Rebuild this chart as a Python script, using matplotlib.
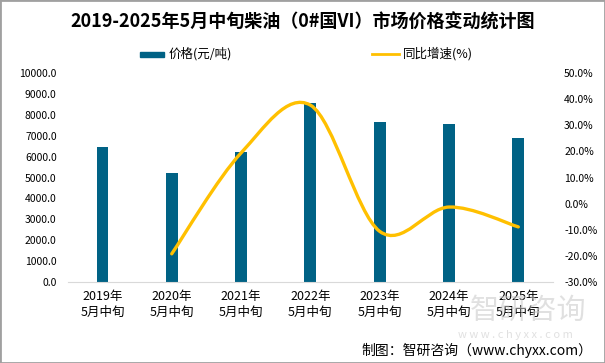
import matplotlib.pyplot as plt
import numpy as np
from matplotlib.path import Path
from matplotlib.patches import PathPatch, Rectangle
from matplotlib.lines import Line2D
from matplotlib.ticker import FormatStrFormatter

plt.rcParams['font.family'] = ['Noto Sans CJK SC', 'DejaVu Sans']

categories = ['2019年\n5月中旬', '2020年\n5月中旬', '2021年\n5月中旬', '2022年\n5月中旬',
              '2023年\n5月中旬', '2024年\n5月中旬', '2025年\n5月中旬']
price = [6450, 5215, 6225, 8570, 7660, 7560, 6890]
growth = [None, -19.2, 19.4, 37.7, -10.6, -1.3, -8.9]

bar_color = '#006285'
line_color = '#FFC000'

fig = plt.figure(figsize=(6.05, 3.63), dpi=100)
ax = fig.add_axes([0.112, 0.223, 0.802, 0.576])
ax2 = ax.twinx()

x = np.arange(len(categories))
ax.bar(x, price, width=0.17, color=bar_color, zorder=2)
ax.set_xlim(-0.5, len(categories) - 0.5)
ax.set_ylim(0, 10000)
ax.set_yticks(np.arange(0, 10001, 1000))
ax.yaxis.set_major_formatter(FormatStrFormatter('%.1f'))
ax.set_xticks(x)
ax.set_xticklabels(categories, fontsize=9, linespacing=1.3)

# smooth growth curve (bezier through the data points, like excel smoothing)
gx = [i for i, g in enumerate(growth) if g is not None]
gy = [g for g in growth if g is not None]
verts = [(gx[0], gy[0])]
codes = [Path.MOVETO]
n = len(gx)
t = 1 / 6
for i in range(n - 1):
    p0 = (gx[max(i - 1, 0)], gy[max(i - 1, 0)])
    p1 = (gx[i], gy[i])
    p2 = (gx[i + 1], gy[i + 1])
    p3 = (gx[min(i + 2, n - 1)], gy[min(i + 2, n - 1)])
    c1 = (p1[0] + (p2[0] - p0[0]) * t, p1[1] + (p2[1] - p0[1]) * t)
    c2 = (p2[0] - (p3[0] - p1[0]) * t, p2[1] - (p3[1] - p1[1]) * t)
    verts += [c1, c2, p2]
    codes += [Path.CURVE4] * 3
ax2.add_patch(PathPatch(Path(verts, codes), fill=False, edgecolor=line_color,
                        lw=2.4, capstyle='round', zorder=3))
ax2.set_ylim(-30, 50)
ax2.set_yticks(np.arange(-30, 51, 10))
ax2.yaxis.set_major_formatter(FormatStrFormatter('%.1f%%'))

for a in (ax, ax2):
    for s in a.spines.values():
        s.set_visible(False)
    a.tick_params(length=0, labelsize=7.5, colors='#000000')
ax.spines['bottom'].set_visible(True)
ax.spines['bottom'].set_color('#d9d9d9')
ax.tick_params(axis='x', pad=6, labelsize=9)
ax.tick_params(axis='y', pad=8)
ax2.tick_params(axis='y', pad=8)

fig.text(0.5, 0.94, '2019-2025年5月中旬柴油（0#国VI）市场价格变动统计图',
         ha='center', va='center', fontsize=13, fontweight='bold')

# legend
fig.patches.append(Rectangle((140 / 605, 1 - 57 / 363), 24 / 605, 5 / 363,
                             transform=fig.transFigure, color=bar_color))
fig.text(169 / 605, 1 - 54 / 363, '价格(元/吨)', fontsize=9, va='center')
fig.lines.append(Line2D([372 / 605, 399 / 605], [1 - 54 / 363] * 2,
                        transform=fig.transFigure, color=line_color, lw=2))
fig.text(403 / 605, 1 - 54 / 363, '同比增速(%)', fontsize=9, va='center')

# watermark
fig.text(528 / 605, 1 - 311 / 363, '智研咨询', fontsize=21, color='#c8c8c8',
         alpha=0.55, ha='center', va='center', zorder=0)
fig.text(515 / 605, 1 - 335 / 363, 'w w w . c h y x x . c o m', fontsize=8,
         color='#c8c8c8', alpha=0.55, ha='center', va='center', zorder=0)

fig.text(592 / 605, 1 - 350 / 363, '制图：智研咨询（www.chyxx.com）', fontsize=10,
         ha='right', va='center')

fig.patches.append(Rectangle((0, 0), 1, 1, transform=fig.transFigure, fill=False,
                             edgecolor='#a0a0a0', lw=2))

fig.savefig('out.png', dpi=100)
